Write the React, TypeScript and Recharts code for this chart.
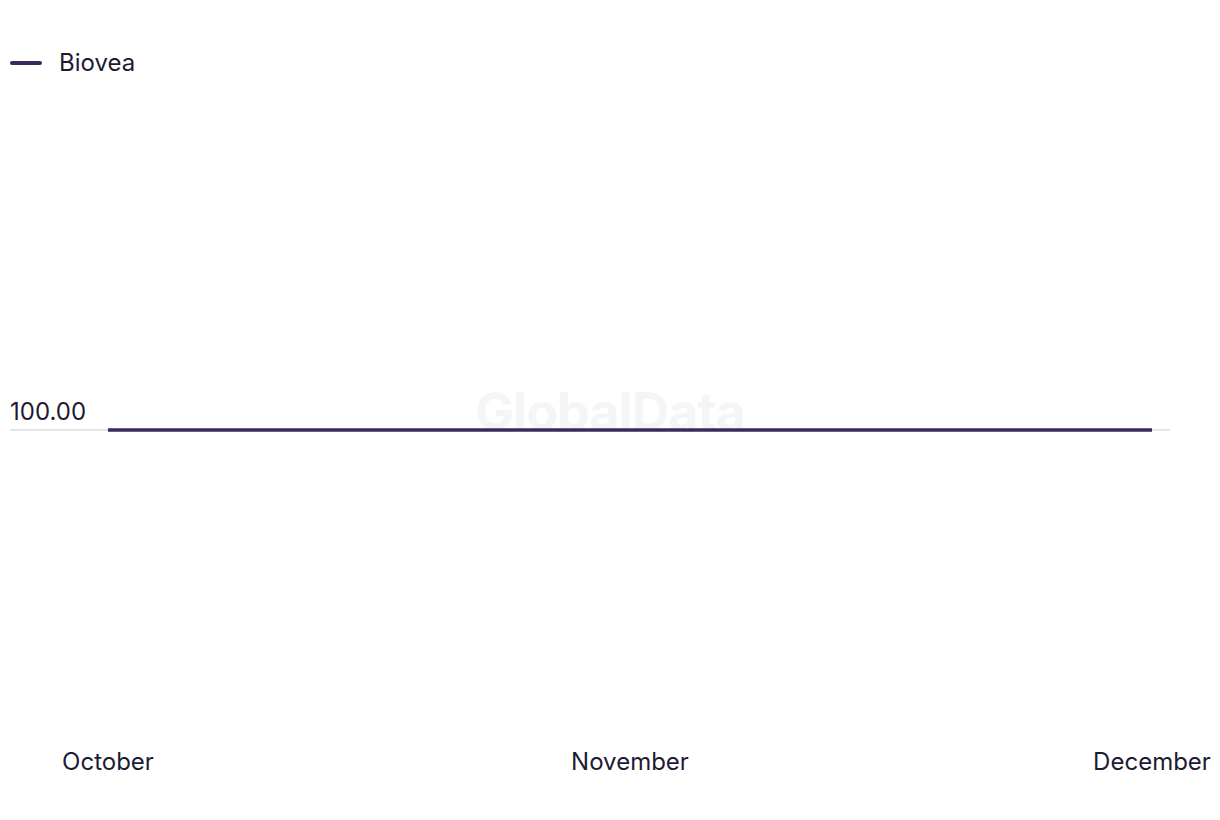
import React from "react";
import { LineChart, Line, XAxis, YAxis, ReferenceLine, Legend } from "recharts";

const months = ["October", "November", "December"];
const bioveaValues = [100, 100, 100];
const yTicks = [100];
const seriesName = "Biovea";

const data = months.map((m, i) => ({ month: m, biovea: bioveaValues[i] }));

const TEXT = "#1d1b33";
const LINE = "#3b2a5c";
const FONT = "Inter, 'Noto Sans', sans-serif";
const FS = 24;

const XTick = (props: any) => {
  const { x, y, payload } = props;
  return (
    <text x={x} y={y + 31} textAnchor="middle" dominantBaseline="central" fill={TEXT} fontSize={FS} fontFamily={FONT}>
      {payload.value}
    </text>
  );
};

const makeYLabel = (value: number) => (props: any) => {
  const vb = props.viewBox || {};
  return (
    <text x={vb.x} y={vb.y - 19} textAnchor="start" dominantBaseline="central" fill={TEXT} fontSize={FS} fontFamily={FONT}>
      {value.toFixed(2)}
    </text>
  );
};

const LegendContent = () => (
  <div style={{ display: "flex", alignItems: "center", fontFamily: FONT, fontSize: FS, color: TEXT }}>
    <div style={{ width: 32, height: 4, borderRadius: 2, background: LINE, marginRight: 17 }} />
    <span>{seriesName}</span>
  </div>
);

export default function App() {
  return (
    <div style={{ position: "relative", width: 1212, height: 800 }}>
      <div
        style={{
          position: "absolute",
          left: 0,
          width: 1204,
          top: 374,
          textAlign: "center",
          fontFamily: FONT,
          fontWeight: 700,
          fontSize: 52,
          letterSpacing: -1,
          color: "#f5f5f5",
          lineHeight: "60px",
        }}
      >
        GlobalData
      </div>
      <LineChart
        width={1212}
        height={800}
        data={data}
        margin={{ top: 122, right: 50, bottom: 48, left: 2 }}
        style={{ position: "absolute", left: 0, top: 0 }}
      >
        <XAxis
          dataKey="month"
          axisLine={false}
          tickLine={false}
          tickSize={0}
          tickMargin={0}
          height={30}
          padding={{ left: 98, right: 18 }}
          tick={<XTick />}
          interval={0}
        />
        <YAxis width={0} domain={[0, 200]} ticks={yTicks} hide />
        {yTicks.map((t) => (
          <ReferenceLine
            key={t}
            y={t}
            stroke="#dddddd"
            strokeWidth={1.5}
            label={{ content: makeYLabel(t) }}
          />
        ))}
        <Legend
          layout="horizontal"
          verticalAlign="middle"
          align="center"
          content={<LegendContent />}
          wrapperStyle={{ top: 40, left: 2, width: 300 }}
        />
        <Line
          type="linear"
          dataKey="biovea"
          name={seriesName}
          stroke={LINE}
          strokeWidth={3.5}
          dot={false}
          activeDot={false}
          isAnimationActive={false}
        />
      </LineChart>
    </div>
  );
}
